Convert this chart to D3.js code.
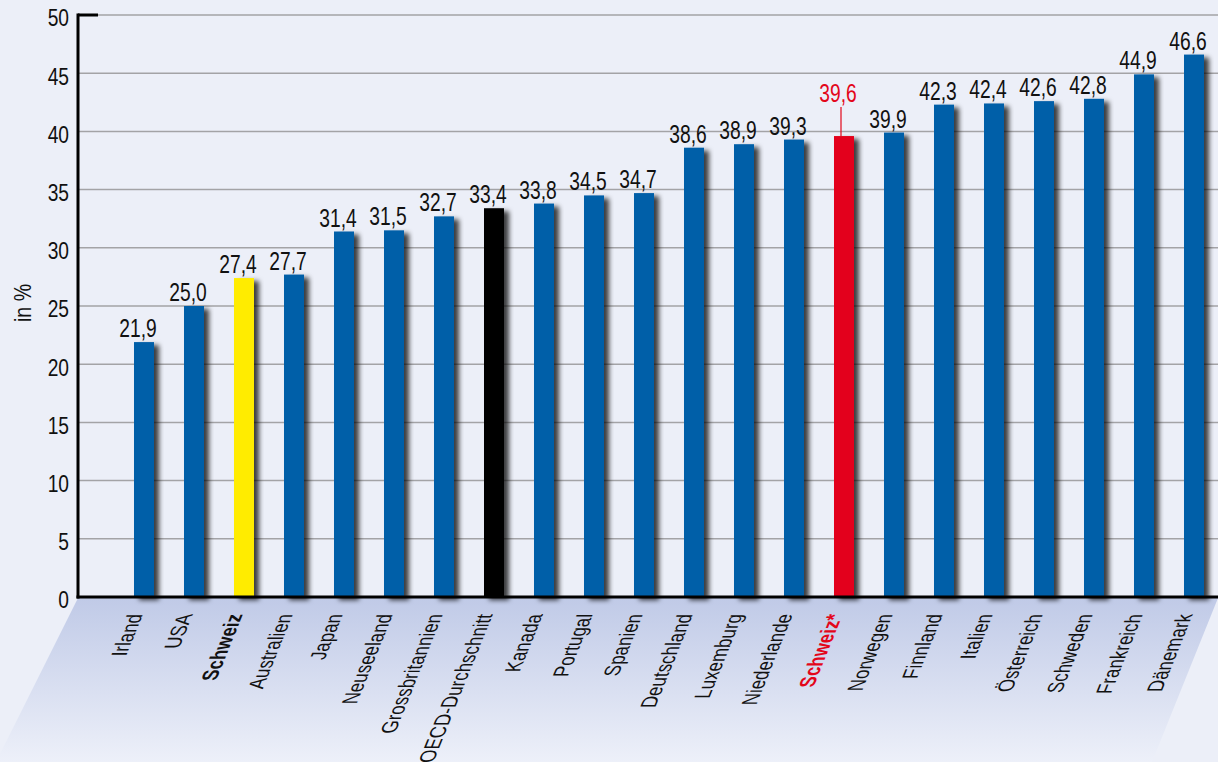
<!DOCTYPE html>
<html><head><meta charset="utf-8">
<script src="https://cdn.jsdelivr.net/npm/d3@7/dist/d3.min.js"></script>
<style>
html,body{margin:0;padding:0;background:#eceff8;}
svg{display:block;}
text{font-family:"Liberation Sans",Arial,sans-serif;}
</style></head>
<body>
<svg id="c" width="1218" height="762"></svg>
<script>
const categories = ["Irland","USA","Schweiz","Australien","Japan","Neuseeland","Grossbritannien","OECD-Durchschnitt","Kanada","Portugal","Spanien","Deutschland","Luxemburg","Niederlande","Schweiz*","Norwegen","Finnland","Italien","Österreich","Schweden","Frankreich","Dänemark"];
const values = [21.9,25.0,27.4,27.7,31.4,31.5,32.7,33.4,33.8,34.5,34.7,38.6,38.9,39.3,39.6,39.9,42.3,42.4,42.6,42.8,44.9,46.6];
const valueLabels = ["21,9","25,0","27,4","27,7","31,4","31,5","32,7","33,4","33,8","34,5","34,7","38,6","38,9","39,3","39,6","39,9","42,3","42,4","42,6","42,8","44,9","46,6"];
const barColors = {"Schweiz":"#ffec00","OECD-Durchschnitt":"#000000","Schweiz*":"#e3061a"};
const yTicks = [0,5,10,15,20,25,30,35,40,45,50];
const yTitle = "in %";

const svg = d3.select("#c");
const W = 1218, H = 762;
const x0 = 78, yBase = 597;
const x = d3.scaleBand().domain(categories).range([119,1219]).paddingInner(0.6).paddingOuter(0.3);
const y = d3.scaleLinear().domain([0,50]).range([yBase,15]);

const defs = svg.append("defs");
const g = defs.append("linearGradient").attr("id","floor").attr("x1",0).attr("y1",0).attr("x2",0).attr("y2",1);
g.append("stop").attr("offset","0%").attr("stop-color","#c0cae7");
g.append("stop").attr("offset","100%").attr("stop-color","#edf0f9");
const f = defs.append("filter").attr("id","sh").attr("x","-50%").attr("y","-10%").attr("width","200%").attr("height","120%");
f.append("feDropShadow").attr("dx",5).attr("dy",3).attr("stdDeviation",2.8).attr("flood-color","#000").attr("flood-opacity",0.75);

svg.append("rect").attr("width",W).attr("height",H).attr("fill","#eceff8");
svg.append("polygon").attr("points",`${x0},${yBase+1} ${W},${yBase+1} 1152,${H} -4,${H}`).attr("fill","url(#floor)");

// gridlines
svg.append("g").selectAll("line").data(yTicks.filter(d=>d>0)).join("line")
  .attr("x1",x0).attr("x2",W).attr("y1",d=>y(d)).attr("y2",d=>y(d))
  .attr("stroke","#a3a3a6").attr("stroke-width",1.5);

// y tick labels
svg.append("g").selectAll("text").data(yTicks).join("text")
  .attr("transform",d=>`translate(69,${y(d)+3}) scale(0.8,1)`)
  .attr("dy","0.35em").attr("text-anchor","end")
  .attr("font-size",24).attr("fill","#111").text(d=>d);

// title
svg.append("text").attr("transform","translate(31,303) rotate(-90) scale(0.85,1)").attr("text-anchor","middle")
  .attr("font-size",23).attr("fill","#111").text(yTitle);

// bars
svg.append("g").selectAll("rect").data(categories).join("rect")
  .attr("x",d=>x(d)).attr("width",x.bandwidth())
  .attr("y",(d,i)=>y(values[i])).attr("height",(d,i)=>yBase-y(values[i]))
  .attr("fill",d=>barColors[d]||"#005ea8").attr("filter","url(#sh)");

// value labels
svg.append("g").selectAll("text").data(categories).join("text")
  .attr("transform",(d,i)=>`translate(${x(d)+x.bandwidth()/2-6},${d==="Schweiz*" ? y(values[i])-34 : y(values[i])-5}) scale(0.74,1)`)
  .attr("text-anchor","middle").attr("font-size",26)
  .attr("fill",d=>d==="Schweiz*"?"#e3061a":"#111")
  .text((d,i)=>valueLabels[i]);
// leader line for Schweiz*
const si = categories.indexOf("Schweiz*");
svg.append("line").attr("x1",x(categories[si])+x.bandwidth()/2-3).attr("x2",x(categories[si])+x.bandwidth()/2-3)
  .attr("y1",y(values[si])-29).attr("y2",y(values[si])).attr("stroke","#e3061a").attr("stroke-width",1.2);

// axes lines
svg.append("line").attr("x1",x0).attr("x2",x0).attr("y1",y(50)-1.5).attr("y2",yBase+1.5).attr("stroke","#000").attr("stroke-width",3);
svg.append("line").attr("x1",x0-1.5).attr("x2",W).attr("y1",yBase).attr("y2",yBase).attr("stroke","#000").attr("stroke-width",3);
svg.append("line").attr("x1",x0).attr("x2",x0+20).attr("y1",y(50)).attr("y2",y(50)).attr("stroke","#000").attr("stroke-width",3);

// category labels
svg.append("g").selectAll("text").data(categories).join("text")
  .attr("transform",d=>`translate(${x(d)+x.bandwidth()/2-1},614) matrix(0.31,-0.77,1,0,0,0)`)
  .attr("text-anchor","end").attr("font-size",22)
  .attr("font-weight",d=>d.startsWith("Schweiz")?"bold":"normal")
  .attr("fill",d=>d==="Schweiz*"?"#e3061a":"#111")
  .text(d=>d);
</script>
</body></html>
